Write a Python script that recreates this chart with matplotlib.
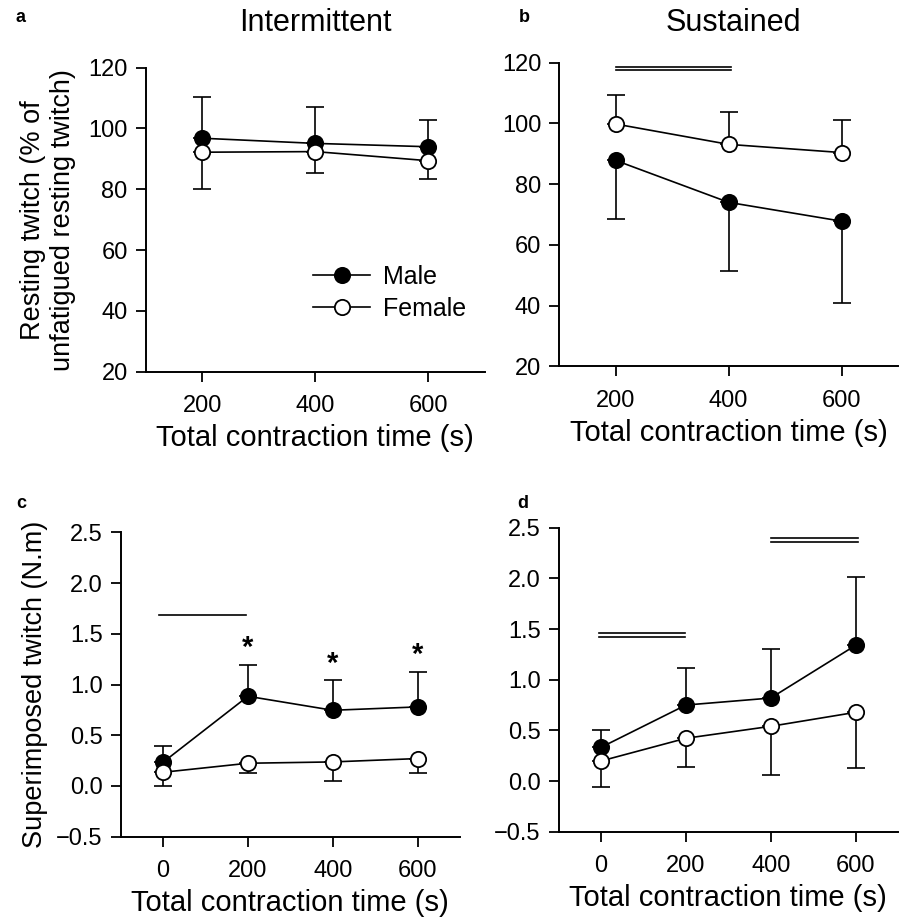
import matplotlib
matplotlib.use("Agg")
import matplotlib.pyplot as plt

plt.rcParams['font.family'] = ['Liberation Sans', 'DejaVu Sans']

# ---- data ----
x_ab = [200, 400, 600]
x_cd = [0, 200, 400, 600]

a_male = [96.8, 95.1, 94.0]
a_male_err = [13.7, 12.1, 8.8]          # upward
a_female = [92.2, 92.4, 89.4]
a_female_err = [12.0, 6.9, 6.0]         # downward

b_male = [87.8, 74.0, 67.8]
b_male_err = [19.3, 22.6, 26.9]         # downward
b_female = [99.8, 93.1, 90.4]
b_female_err = [9.5, 10.6, 10.8]        # upward

c_male = [0.234, 0.884, 0.746, 0.779]
c_male_err = [0.161, 0.306, 0.299, 0.345]   # upward
c_female = [0.135, 0.224, 0.237, 0.270]
c_female_err = [0.131, 0.098, 0.184, 0.138] # downward

d_male = [0.333, 0.750, 0.819, 1.339]
d_male_err = [0.171, 0.368, 0.487, 0.671]   # upward
d_female = [0.198, 0.422, 0.540, 0.678]
d_female_err = [0.254, 0.281, 0.481, 0.550] # downward

yticks_ab = [20, 40, 60, 80, 100, 120]
yticks_cd = [-0.5, 0.0, 0.5, 1.0, 1.5, 2.0, 2.5]
ytick_labels_cd = ['\u22120.5', '0.0', '0.5', '1.0', '1.5', '2.0', '2.5']

W, H = 903, 917
fig = plt.figure(figsize=(W / 100, H / 100), dpi=100)

def add_ax(l, r, t, b):
    return fig.add_axes([l / W, 1 - b / H, (r - l) / W, (b - t) / H])

ax_a = add_ax(145.7, 485, 67.7, 371.7)
ax_b = add_ax(559.3, 898, 62.7, 366.3)
ax_c = add_ax(120.7, 460, 532.3, 836.7)
ax_d = add_ax(558.7, 898, 527.7, 831.7)

LW = 1.2
MS = 11
CAP = 6.5
TICKFS = 17
LABFS = 21
YLABFS = 19.5

def style(ax):
    for s in ['top', 'right']:
        ax.spines[s].set_visible(False)
    for s in ['left', 'bottom']:
        ax.spines[s].set_linewidth(1.4)
    ax.tick_params(direction='out', length=7, width=1.3, labelsize=TICKFS)
    ax.tick_params(axis='x', pad=10)
    ax.tick_params(axis='y', pad=6)

def plot_series(ax, x, y, err, up, filled, label=None):
    yerr = [[0] * len(err), err] if up else [err, [0] * len(err)]
    ax.errorbar(x, y, yerr=yerr, fmt='none', ecolor='black', elinewidth=LW,
                capsize=CAP, capthick=LW, zorder=2)
    ax.plot(x, y, '-o', color='black', lw=LW, ms=MS, mec='black', mew=1.3,
            mfc='black' if filled else 'white', zorder=3, label=label)

# panel a
plot_series(ax_a, x_ab, a_male, a_male_err, True, True, 'Male')
plot_series(ax_a, x_ab, a_female, a_female_err, False, False, 'Female')
# panel b
plot_series(ax_b, x_ab, b_female, b_female_err, True, False)
plot_series(ax_b, x_ab, b_male, b_male_err, False, True)
# panel c
plot_series(ax_c, x_cd, c_male, c_male_err, True, True)
plot_series(ax_c, x_cd, c_female, c_female_err, False, False)
# panel d
plot_series(ax_d, x_cd, d_male, d_male_err, True, True)
plot_series(ax_d, x_cd, d_female, d_female_err, False, False)

for ax in (ax_a, ax_b):
    ax.set_xlim(100, 700)
    ax.set_ylim(20, 120)
    ax.set_xticks(x_ab)
    ax.set_yticks(yticks_ab)
    style(ax)
for ax in (ax_c, ax_d):
    ax.set_xlim(-100, 700)
    ax.set_ylim(-0.5, 2.5)
    ax.set_xticks(x_cd)
    ax.set_yticks(yticks_cd)
    ax.set_yticklabels(ytick_labels_cd)
    style(ax)

for ax in (ax_a, ax_b, ax_c, ax_d):
    ax.set_xlabel('Total contraction time (s)', fontsize=LABFS, labelpad=5)

ax_a.set_ylabel('Resting twitch (% of\nunfatigued resting twitch)', fontsize=YLABFS,
                labelpad=9, linespacing=1.2)
ax_c.set_ylabel('Superimposed twitch (N.m)', fontsize=YLABFS, labelpad=6)

# significance bars
ax_b.plot([200, 405], [118.7, 118.7], color='black', lw=1.2, clip_on=False)
ax_b.plot([200, 405], [117.5, 117.5], color='black', lw=1.2, clip_on=False)
ax_c.plot([-10, 195], [1.682, 1.682], color='black', lw=1.2)
ax_d.plot([-5, 198], [1.465, 1.465], color='black', lw=1.2)
ax_d.plot([-5, 198], [1.425, 1.425], color='black', lw=1.2)
ax_d.plot([400, 605], [2.395, 2.395], color='black', lw=1.2, clip_on=False)
ax_d.plot([400, 605], [2.359, 2.359], color='black', lw=1.2, clip_on=False)

# asterisks
for xx, yy in zip([200, 400, 600], [1.36, 1.20, 1.29]):
    ax_c.text(xx, yy, '*', ha='center', va='center', fontsize=21, fontweight='bold')

# legend
ax_a.legend(loc='center left', bbox_to_anchor=(0.493, 0.259), frameon=False,
            fontsize=18, handlelength=2.3, handletextpad=0.5,
            labelspacing=0.3, borderaxespad=0, borderpad=0)

# titles and panel letters
fig.text(315 / W, 1 - 23 / H, 'Intermittent', ha='center', va='center', fontsize=22)
fig.text(733 / W, 1 - 23 / H, 'Sustained', ha='center', va='center', fontsize=22)
for txt, px, py in [('a', 20, 18), ('b', 524, 18), ('c', 21, 503), ('d', 523, 503)]:
    fig.text(px / W, 1 - py / H, txt, ha='center', va='center', fontsize=13, fontweight='bold')

fig.savefig('out.png', dpi=100)
